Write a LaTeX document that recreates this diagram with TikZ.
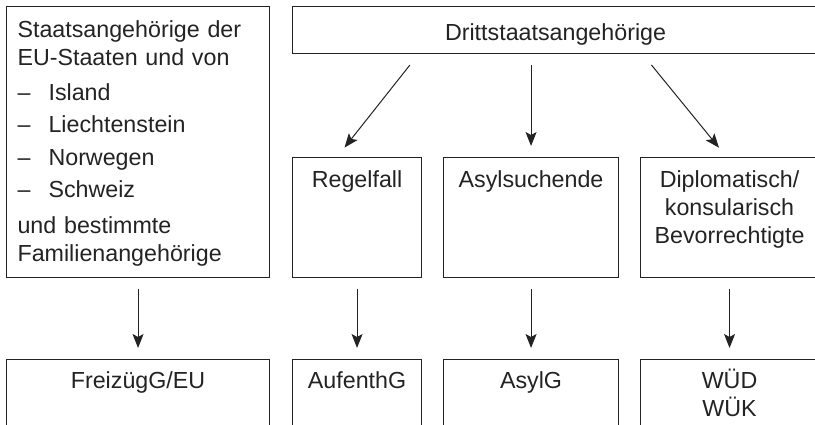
\documentclass[tikz,border=0pt]{standalone}
\usepackage{fontspec}
\setmainfont{Liberation Sans}
\usetikzlibrary{arrows.meta}
\definecolor{lawgray}{RGB}{35,35,35}
\begin{document}
\begin{tikzpicture}[x=1pt,y=-1pt,>={Stealth[length=14pt,width=11pt,inset=3pt]},
 lawbox/.style={draw=lawgray,line width=1.1pt,inner xsep=0pt,inner ysep=0pt,anchor=north west,
  align=center,text=lawgray,font=\fontsize{23.25}{28}\selectfont},
 toplabel/.style={text height=30pt,text depth=90pt,minimum height=120pt},
 lawlabel/.style={text height=29pt,text depth=61pt,minimum height=90pt},
 flow/.style={->,lawgray,line width=1pt,shorten <=11pt,shorten >=11pt}]
\useasboundingbox (0,0) rectangle (815,425);
\clip (0,0) rectangle (815,425);
\node[lawbox,text width=241pt,inner xsep=11pt,align=left,text height=31pt,text depth=240pt] (eu) at (6,6)
 {Staatsangehörige der\\EU-Staaten und von\\[7pt]\makebox[31pt][l]{–}Island\\[4pt]
  \makebox[31pt][l]{–}Liechtenstein\\[5pt]\makebox[31pt][l]{–}Norwegen\\[4pt]
  \makebox[31pt][l]{–}Schweiz\\[8pt]und bestimmte\\Familienangehörige};
\node[lawbox,minimum width=526pt,text height=34pt,text depth=13pt] (dritt) at (292,6) {Drittstaatsangehörige};
\node[lawbox,toplabel,minimum width=129pt] (regel) at (292,157) {Regelfall};
\node[lawbox,toplabel,minimum width=175pt] (asyl) at (443,157) {Asylsuchende};
\node[lawbox,toplabel,text width=178pt] (diplo) at (640,157) {Diplomatisch/\\konsularisch\\Bevorrechtigte};
\node[lawbox,lawlabel,minimum width=263pt] (freiz) at (6,359) {FreizügG/EU};
\node[lawbox,lawlabel,minimum width=129pt] (aufg) at (292,359) {AufenthG};
\node[lawbox,lawlabel,minimum width=175pt] (asylg) at (443,359) {AsylG};
\node[lawbox,lawlabel,text width=178pt] (wued) at (640,359) {WÜD\\WÜK};
\draw[flow,shorten <=14pt,shorten >=12pt] ([xshift=-137pt]dritt.south) -- ([xshift=-20pt]regel.north);
\draw[flow] (asyl.north |- dritt.south) -- (asyl.north);
\draw[flow,shorten <=14pt,shorten >=12pt] ([xshift=87pt]dritt.south) -- ([xshift=-3pt]diplo.north);
\draw[flow] (eu.south) -- (freiz.north);
\draw[flow] (regel.south) -- (aufg.north);
\draw[flow] (asyl.south) -- (asylg.north);
\draw[flow] (diplo.south) -- (wued.north);
\end{tikzpicture}
\end{document}
